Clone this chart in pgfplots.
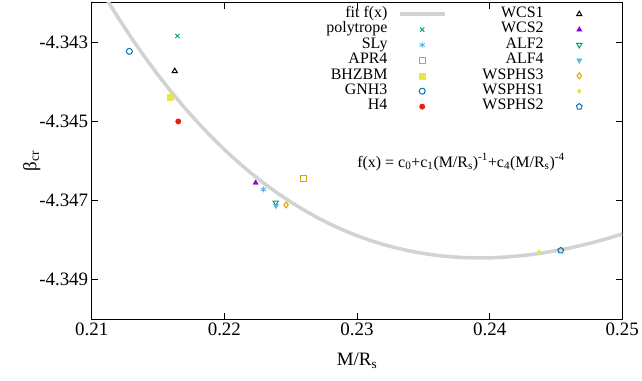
\documentclass[border=0pt]{standalone}
\usepackage{fontspec}
\setmainfont{Liberation Serif}
\usepackage{pgfplots}
\pgfplotsset{compat=1.18}
\definecolor{gpPurple}{HTML}{9400D3}
\definecolor{gpGreen}{HTML}{009E73}
\definecolor{gpLBlue}{HTML}{56B4E9}
\definecolor{gpOrange}{HTML}{E69F00}
\definecolor{gpYellow}{HTML}{F0E442}
\definecolor{gpBlue}{HTML}{0072B2}
\definecolor{gpRed}{HTML}{E51E10}
\definecolor{fitgray}{HTML}{D2D2D2}
\pgfplotsset{
  legA/.style={legend image code/.code={\path (-5bp,0bp); \path (75.5bp,0bp); \draw[mark repeat=2,mark phase=2,##1] plot coordinates {(0bp,0bp) (22.5bp,0bp) (45bp,0bp)};}},
  legB/.style={legend image code/.code={\path (-7.5bp,0bp); \path (47bp,0bp); \draw[mark repeat=2,mark phase=2,##1] plot coordinates {(0bp,0bp) (22.5bp,0bp) (45bp,0bp)};}},
}
\begin{document}
\begin{tikzpicture}
\begin{axis}[
  at={(0,0)}, anchor=south west,
  scale only axis, width=530.6bp, height=316.6bp,
  xmin=0.21, xmax=0.25, ymin=-4.350, ymax=-4.342,
  xtick={0.21,0.22,0.23,0.24,0.25},
  ytick={-4.349,-4.347,-4.345,-4.343},
  scaled ticks=false,
  tick align=inside, major tick length=6bp,
  minor tick num=0,
  axis line style={line width=1.2bp},
  every tick/.style={line width=1bp, black},
  /pgf/number format/assume math mode=true,
  xticklabel style={/pgf/number format/fixed, /pgf/number format/fixed zerofill, /pgf/number format/precision=2},
  yticklabel style={/pgf/number format/fixed, /pgf/number format/fixed zerofill, /pgf/number format/precision=3},
  tick label style={font=\fontsize{19}{19}\selectfont},
  label style={font=\fontsize{19}{19}\selectfont},
  xlabel={M/R\textsubscript{s}},
  ylabel={β\textsubscript{cr}},
  xlabel style={yshift=-11bp},
  ylabel style={yshift=-8bp},
  legend columns=2,
  legend plot pos=right,
  legend cell align=right,
  legend style={at={(rel axis cs:0.9655,0.988)}, anchor=north east, draw=none, fill=none, inner sep=0pt, outer sep=0pt,
    font=\fontsize{16}{16}\selectfont, column sep=5.5bp, row sep=0pt,
    nodes={inner sep=0pt, text height=11bp, text depth=4.4bp}},
  mark size=3bp,
]
\addplot[legA, fitgray, line width=3.5bp, no marks] coordinates {
(0.211,-4.341845) (0.212,-4.342382) (0.213,-4.342891) (0.214,-4.343372) (0.215,-4.343825)
(0.216,-4.344252) (0.217,-4.344654) (0.218,-4.345029) (0.219,-4.345382) (0.220,-4.345711)
(0.221,-4.346017) (0.222,-4.346304) (0.223,-4.346567) (0.224,-4.346811) (0.225,-4.347035)
(0.226,-4.347240) (0.227,-4.347428) (0.228,-4.347599) (0.229,-4.347751) (0.230,-4.347887)
(0.231,-4.348006) (0.232,-4.348112) (0.233,-4.348200) (0.234,-4.348275) (0.235,-4.348336)
(0.236,-4.348384) (0.237,-4.348418) (0.238,-4.348439) (0.239,-4.348450) (0.240,-4.348446)
(0.241,-4.348431) (0.242,-4.348406) (0.243,-4.348370) (0.244,-4.348323) (0.245,-4.348267)
(0.246,-4.348202) (0.247,-4.348125) (0.248,-4.348041) (0.249,-4.347947) (0.250,-4.347846)
};
\addlegendentry{fit f(x)}
\addplot[legB, only marks, black, mark=triangle, mark options={line width=1bp}] coordinates {(0.21626,-4.34373)};
\addlegendentry{WCS1}
\addplot[legA, only marks, gpGreen, mark=x, mark options={line width=0.9bp}] coordinates {(0.21646,-4.34284)};
\addlegendentry{polytrope}
\addplot[legB, only marks, gpPurple, mark=triangle*] coordinates {(0.22236,-4.34655)};
\addlegendentry{WCS2}
\addplot[legA, only marks, gpLBlue, mark=asterisk, mark options={line width=0.9bp}] coordinates {(0.22294,-4.34672)};
\addlegendentry{SLy}
\addplot[legB, only marks, gpGreen, mark=triangle, mark options={rotate=180, line width=1bp}] coordinates {(0.22387,-4.34705)};
\addlegendentry{ALF2}
\addplot[legA, only marks, gpOrange, mark=square, mark options={line width=1bp}] coordinates {(0.22598,-4.34645)};
\addlegendentry{APR4}
\addplot[legB, only marks, gpLBlue, mark=triangle*, mark options={rotate=180}] coordinates {(0.22389,-4.34713)};
\addlegendentry{ALF4}
\addplot[legA, only marks, gpYellow, mark=square*] coordinates {(0.21590,-4.34439)};
\addlegendentry{BHZBM}
\addplot[legB, only marks, gpOrange, mark=diamond, mark options={line width=1bp}] coordinates {(0.22465,-4.34711)};
\addlegendentry{WSPHS3}
\addplot[legA, only marks, gpBlue, mark=o, mark options={line width=1bp}] coordinates {(0.21284,-4.34323)};
\addlegendentry{GNH3}
\addplot[legB, only marks, gpYellow, mark=diamond*, mark size=2.5bp] coordinates {(0.24374,-4.34830)};
\addlegendentry{WSPHS1}
\addplot[legA, only marks, gpRed, mark=*, mark size=2.7bp] coordinates {(0.21653,-4.34500)};
\addlegendentry{H4}
\addplot[legB, only marks, gpBlue, mark=pentagon, mark options={line width=1bp}] coordinates {(0.24536,-4.34826)};
\addlegendentry{WSPHS2}
\node[font=\fontsize{16}{16}\selectfont] at (rel axis cs:0.696,0.497)
  {f(x) = c\textsubscript{0}+c\textsubscript{1}(M/R\textsubscript{s})\textsuperscript{-1}+c\textsubscript{4}(M/R\textsubscript{s})\textsuperscript{-4}};
\end{axis}
\pgfresetboundingbox
\path[use as bounding box] (-91.7bp,-61.7bp) rectangle (550.3bp,319.3bp);
\end{tikzpicture}
\end{document}
